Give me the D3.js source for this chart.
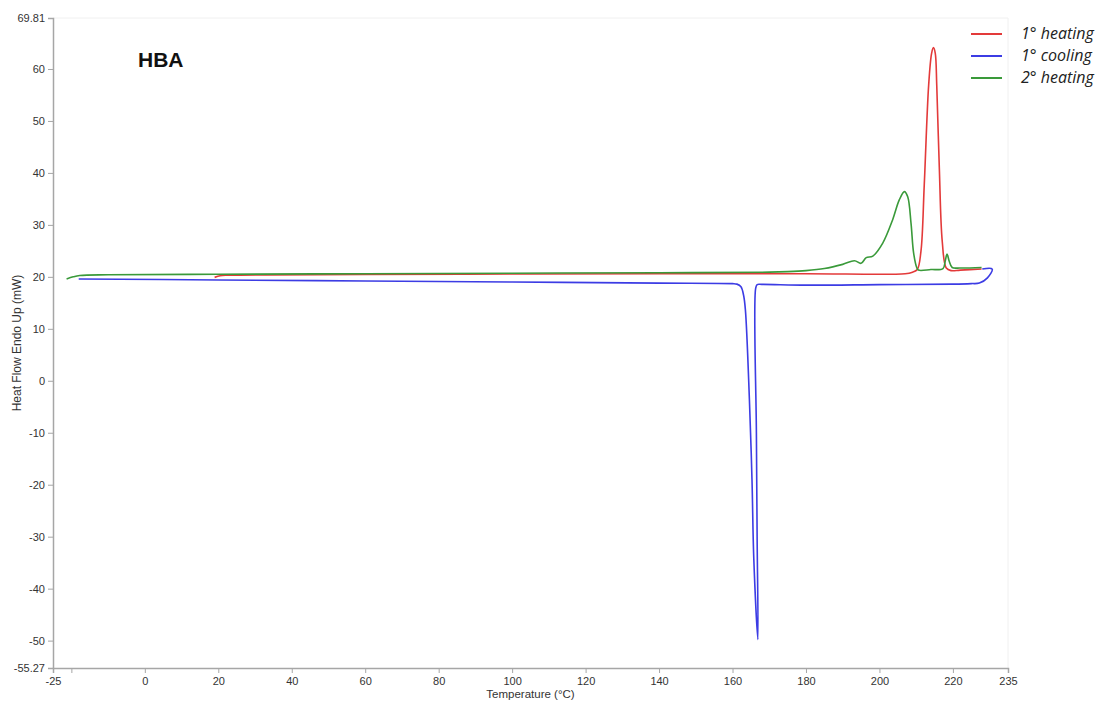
<!DOCTYPE html>
<html>
<head>
<meta charset="utf-8">
<script src="https://cdn.jsdelivr.net/npm/d3@7"></script>
<style>
  body { margin: 0; background: #fff; }
  svg { display: block; font-family: "Liberation Sans", Arial, sans-serif; }
</style>
</head>
<body>
<script>
// temperature (°C) / heat flow (mW)
const heating1 = [
  [19, 19.9], [20.5, 20.2], [22, 20.3], [60, 20.45], [100, 20.55], [140, 20.6],
  [180, 20.6], [207, 20.6], [209, 20.9], [210.3, 21.4], [211.3, 24.9], [212.2, 37.7],
  [213.4, 56.9], [214.2, 63.0], [214.7, 64.1], [215.2, 63.0], [215.6, 56.9],
  [216.3, 41.0], [217.1, 26.8], [218.2, 21.7], [219.5, 21.2], [222, 21.3], [227.8, 21.5]
];
const cooling1 = [
  [228, 21.5], [230.7, 21.5], [229.4, 19.8], [227.2, 18.8], [225, 18.7], [220, 18.6],
  [200, 18.5], [180, 18.4], [168, 18.55], [166.7, 18.5], [166.3, 17.8], [166.5, -10],
  [166.7, -30], [166.9, -49.8], [165.8, -34.4], [165.3, -19.0], [164.6, -3.65],
  [163.5, 13.7], [163.0, 16.5], [162.3, 18.1], [161.2, 18.6], [160, 18.7],
  [140, 18.8], [100, 19.0], [60, 19.2], [20, 19.4], [-18, 19.6]
];
const heating2 = [
  [-21.3, 19.6], [-19.5, 20.0], [-17.7, 20.25], [-10, 20.4], [20, 20.5], [60, 20.6],
  [100, 20.7], [140, 20.8], [170, 20.9], [175, 21.0], [180, 21.2], [185, 21.6],
  [190, 22.4], [193.2, 23.1], [195.0, 22.6], [196.4, 23.7], [198.2, 24.0],
  [200.9, 26.5], [203.6, 31.0], [205.4, 34.8], [206.8, 36.4], [207.7, 35.4],
  [208.6, 30.3], [209.3, 24.6], [210.2, 21.7], [210.6, 21.3], [214, 21.4],
  [217.3, 21.6], [217.9, 23.0], [218.4, 24.4], [219.0, 23.0], [219.8, 21.8],
  [222, 21.7], [227.8, 21.8]
];

const seriesNames = ["1° heating", "1° cooling", "2° heating"];
const seriesColors = ["#e33a3a", "#3c3ce4", "#3a9a3a"];
const xTicks = [-25, -20, 0, 20, 40, 60, 80, 100, 120, 140, 160, 180, 200, 220, 235];
const yTicks = [-55.27, -50, -40, -30, -20, -10, 0, 10, 20, 30, 40, 50, 60, 69.81];

const W = 1102, H = 704;
const plot = { left: 53, right: 1008, top: 18, bottom: 668 };

const svg = d3.select("body").append("svg").attr("width", W).attr("height", H);

const x = d3.scaleLinear().domain([-25, 235]).range([plot.left, plot.right]);
const y = d3.scaleLinear().domain([-55.27, 69.81]).range([plot.bottom, plot.top]);

// faint frame
svg.append("path")
  .attr("d", `M${plot.left},${plot.top}H${plot.right}V${plot.bottom}`)
  .attr("fill", "none").attr("stroke", "#f0f0f0");

const axisColor = "#a6a6a6";

const xAxis = svg.append("g").attr("transform", `translate(0,${plot.bottom})`)
  .call(d3.axisBottom(x).tickValues(xTicks).tickSize(5).tickPadding(4)
    .tickFormat(d => d === -20 ? "" : d));
const yAxis = svg.append("g").attr("transform", `translate(${plot.left},0)`)
  .call(d3.axisLeft(y).tickValues(yTicks).tickSize(5).tickPadding(3)
    .tickFormat(d => d));

[xAxis, yAxis].forEach(g => {
  g.select(".domain").attr("stroke", axisColor).attr("stroke-width", 1.5);
  g.selectAll(".tick line").attr("stroke", axisColor);
  g.selectAll(".tick text").attr("fill", "#333").style("font-size", "11px");
});

svg.append("text")
  .attr("x", (plot.left + plot.right) / 2).attr("y", 698)
  .attr("text-anchor", "middle").attr("fill", "#333").style("font-size", "11.5px")
  .text("Temperature (°C)");

svg.append("text")
  .attr("transform", `translate(21,${(plot.top + plot.bottom) / 2}) rotate(-90)`)
  .attr("text-anchor", "middle").attr("fill", "#333").style("font-size", "12px")
  .text("Heat Flow Endo Up (mW)");

svg.append("text")
  .attr("x", 138).attr("y", 67)
  .attr("fill", "#111").style("font-size", "21px").style("font-weight", "bold")
  .text("HBA");

const line = d3.line()
  .x(d => x(d[0])).y(d => y(d[1]))
  .curve(d3.curveCatmullRom.alpha(0.5));

[heating1, cooling1, heating2].forEach((data, i) => {
  svg.append("path")
    .datum(data)
    .attr("fill", "none")
    .attr("stroke", seriesColors[i])
    .attr("stroke-width", 1.6)
    .attr("stroke-linejoin", "round")
    .attr("d", line);
});

// legend
const legend = svg.append("g");
seriesNames.forEach((name, i) => {
  const ly = 34 + i * 22;
  legend.append("line")
    .attr("x1", 971).attr("x2", 1002).attr("y1", ly).attr("y2", ly)
    .attr("stroke", seriesColors[i]).attr("stroke-width", 2);
  legend.append("text")
    .attr("x", 1021).attr("y", ly + 5)
    .attr("fill", "#222")
    .style("font-family", "'Open Sans', sans-serif")
    .style("font-style", "italic").style("font-size", "16px")
    .text(name);
});
</script>
</body>
</html>
